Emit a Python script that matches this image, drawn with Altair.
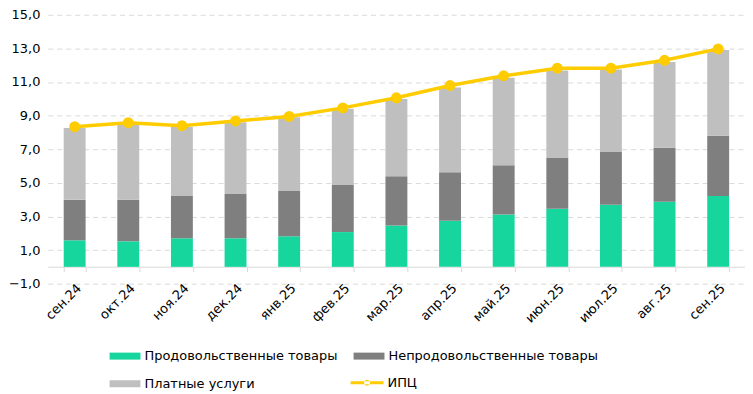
import altair as alt
import pandas as pd

months = ["сен.24", "окт.24", "ноя.24", "дек.24", "янв.25", "фев.25", "мар.25",
          "апр.25", "май.25", "июн.25", "июл.25", "авг.25", "сен.25"]
food = [1.58, 1.52, 1.70, 1.70, 1.82, 2.07, 2.46, 2.75, 3.11, 3.46, 3.69, 3.87, 4.22]
nonfood = [2.41, 2.47, 2.52, 2.64, 2.69, 2.80, 2.93, 2.88, 2.93, 3.05, 3.17, 3.22, 3.58]
services = [4.27, 4.51, 4.10, 4.26, 4.39, 4.53, 4.59, 5.04, 5.21, 5.17, 4.88, 5.10, 5.10]
cpi = [8.34, 8.58, 8.40, 8.68, 8.95, 9.46, 10.06, 10.79, 11.37, 11.82, 11.82, 12.29, 12.97]

bar_names = ["Продовольственные товары", "Непродовольственные товары", "Платные услуги"]
bar_colors = ["#17d69d", "#7f7f7f", "#bfbfbf"]
line_name = "ИПЦ"
line_color = "#ffcc00"
y_ticks = [-1, 1, 3, 5, 7, 9, 11, 13, 15]

rows = []
for i, m in enumerate(months):
    for k, vals in enumerate([food, nonfood, services]):
        rows.append({"month": m, "series": bar_names[k], "value": vals[i], "order": k})
bars_df = pd.DataFrame(rows)
line_df = pd.DataFrame({"month": months, "value": cpi, "series": line_name})

FONT = "DejaVu Sans"
FS = 13

bar_legend = alt.Legend(
    title=None, orient="none", legendX=62, legendY=327, columns=2, direction="horizontal",
    symbolType="M-1,-0.226H1V0.226H-1Z", symbolSize=961, symbolStrokeWidth=0,
    labelFont=FONT, labelFontSize=FS, labelColor="#000000", labelLimit=0,
    columnPadding=16, rowPadding=5, labelOffset=4,
)
line_legend = alt.Legend(
    title=None, orient="none", legendX=304, legendY=353,
    symbolType="M-1,-0.09H1V0.09H-1Z M-0.18,0A0.18,0.18 0 1,0 0.18,0A0.18,0.18 0 1,0 -0.18,0Z",
    symbolSize=1089, symbolStrokeWidth=0, symbolFillColor=line_color,
    labelFont=FONT, labelFontSize=FS, labelColor="#000000", labelOffset=4, labelLimit=0,
)

x_axis = alt.Axis(labelAngle=315, labelFont=FONT, labelFontSize=FS,
                  labelColor="#000000", offset=-17, domainColor="#d9d9d9",
                  tickColor="#d9d9d9", tickSize=5, tickBand="extent",
                  labelPadding=10, grid=False, title=None)
x_scale = alt.Scale(paddingInner=0.59, paddingOuter=0.295)

y_axis = alt.Axis(values=y_ticks, labelExpr="replace(format(datum.value, '.1f'), '.', ',')",
                  labelFont=FONT, labelFontSize=FS, labelColor="#000000", labelOverlap=False,
                  domain=False, ticks=False, labelPadding=8,
                  gridColor="#d9d9d9", gridDash=[5, 4], gridWidth=1, title=None)
y_scale = alt.Scale(domain=[-1, 15], nice=False, zero=False)

bars = alt.Chart(bars_df).mark_bar(size=22).encode(
    x=alt.X("month:N", sort=months, scale=x_scale, axis=x_axis),
    y=alt.Y("sum(value):Q", scale=y_scale, axis=y_axis),
    fill=alt.Fill("series:N", scale=alt.Scale(domain=bar_names, range=bar_colors), legend=bar_legend),
    order=alt.Order("order:Q", sort="ascending"),
)

line = alt.Chart(line_df).mark_line(
    strokeWidth=3.5,
    point=alt.OverlayMarkDef(size=80, filled=True, fill=line_color, opacity=1),
).encode(
    x=alt.X("month:N", sort=months, scale=x_scale, axis=x_axis),
    y=alt.Y("value:Q", scale=y_scale, axis=y_axis),
    stroke=alt.Stroke("series:N", scale=alt.Scale(domain=[line_name], range=[line_color]), legend=line_legend),
)

chart = alt.layer(bars, line).properties(
    width=700, height=270,
    padding={"left": 0, "top": 0, "right": 0, "bottom": 0},
).configure_view(stroke=None).configure_axis(labelOverlap=False)

chart.save("out.html", embed_options={"renderer": "svg", "actions": False})
